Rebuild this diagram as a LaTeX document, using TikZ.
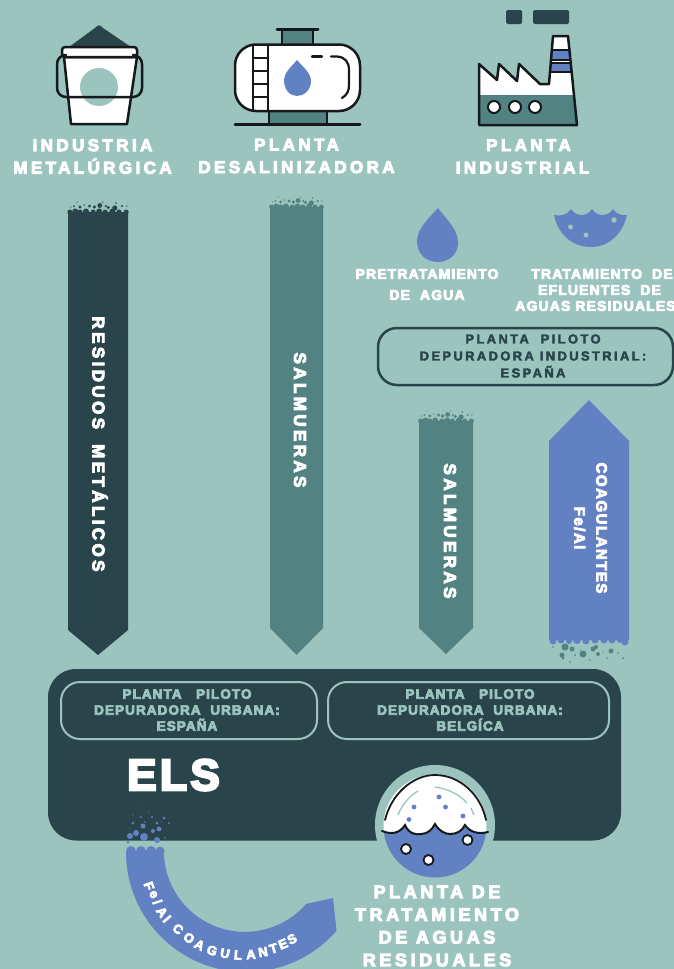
\documentclass[tikz,border=0pt]{standalone}
\usepackage{fontspec}
\setmainfont{Liberation Sans}
\newfontfamily\fA{Liberation Sans Bold}[LetterSpace=20,FakeBold=5.5]
\newfontfamily\fB{Liberation Sans Bold}[LetterSpace=8,FakeBold=5.5]
\newfontfamily\fC{Liberation Sans Bold}[LetterSpace=18,FakeBold=3]
\newfontfamily\fD{Liberation Sans Bold}[LetterSpace=10,FakeBold=5.5]
\newfontfamily\fE{Liberation Sans Bold}[FakeBold=5.5]
\definecolor{bgc}{HTML}{9BC4BE}
\definecolor{dark}{HTML}{2A444C}
\definecolor{teal}{HTML}{538282}
\definecolor{bluec}{HTML}{6281C3}
\definecolor{ink}{HTML}{15191C}
\tikzset{
  title/.style={font=\fA\fontsize{17}{22.5}\selectfont,text=white,align=center,inner sep=0pt},
  vlabel/.style={font=\fA\fontsize{17}{22}\selectfont,text=white,align=center,inner sep=0pt,rotate=-90},
  sublabel/.style={font=\fB\fontsize{14}{16}\selectfont,text=white,align=center,inner sep=0pt},
  pilot/.style={font=\fB\fontsize{13.5}{16}\selectfont,text=bgc,align=center,inner sep=0pt},
  pilotbox/.style={draw=bgc,line width=2pt,rounded corners=19pt},
  inkline/.style={draw=ink,line width=2.5pt,line join=round,line cap=round},
}
\newcommand{\foamtop}[4]{%
  \foreach \a/\b/\r in {.03/9/2.5,.12/8.5/3,.2/9/2.5,.3/8.5/3,.42/9/2.5,.52/8.5/3,.62/9/2.5,.74/8.5/3,.85/9/2.5,.97/9/2.5,
    .1/3/1,.2/4/1.6,.27/2/.8,.36/3/1.6,.44/4/1.8,.53/2.5/2.4,.63/3/1.2,.67/4.5/1.6,.78/5/2.6,.8/0/.9,.9/3/1.1,.05/4/.7,.98/3/.7,.58/-1/.7,.15/-1/.6}
    {\fill[#4] (#1+\a*#3,#2+\b) circle (\r);}}
\begin{document}
\begin{tikzpicture}[x=1pt,y=1pt,yscale=-1]
\useasboundingbox (0,0) rectangle (674,969);
\clip (0,0) rectangle (674,969);
\fill[bgc] (0,0) rectangle (674,969);

% ---------- bucket
\fill[dark] (95,28) .. controls (98,24.5) and (100,24.5) .. (103,28) -- (131,47) -- (69,47) -- cycle;
\filldraw[fill=white,inkline] (64,57) -- (71,124) -- (127,124) -- (137,57) -- cycle;
\fill[bgc] (99,87) circle (19);
\filldraw[fill=white,inkline,rounded corners=3pt] (62,47) rectangle (137,57);
\draw[inkline,rounded corners=9pt] (63,55) -- (57,55) -- (57,97) -- (142,97) -- (142,55) -- (136,55);
% ---------- tank
\fill[teal] (282,31) rectangle (313,46);
\draw[inkline] (282,31) -- (282,44) (313,31) -- (313,44);
\draw[ink,line width=3pt,line cap=round] (277,29.5) -- (318,29.5);
\fill[teal] (269,110) rectangle (327,124);
\draw[inkline] (269,111) -- (269,124) (327,111) -- (327,124);
\draw[ink,line width=3pt,line cap=round] (235,124.5) -- (360,124.5);
\filldraw[fill=white,inkline,rounded corners=21pt] (235,44.5) rectangle (360,111);
\draw[inkline] (253,45) -- (253,110) (268,45) -- (268,110)
  (253,58) -- (268,58) (253,71) -- (268,71) (253,84) -- (268,84) (253,97) -- (268,97);
\fill[bluec] (297,60) .. controls (303,67) and (311,73) .. (311,81) .. controls (311,90) and (304,96) .. (297,96) .. controls (290,96) and (284,90) .. (284,80) .. controls (284,73) and (291,67) .. (297,60) -- cycle;
\draw[ink,line width=2.2pt,line cap=round] (312,56.5) -- (322,56.5);
\draw[ink,line width=2.2pt,line cap=round] (331,56.5) -- (337,56.5) .. controls (345,57) and (349,62) .. (349,70) -- (349,85) .. controls (349,91) and (347,95) .. (342,98);
% ---------- factory
\fill[dark,rounded corners=1.5pt] (506,10) rectangle (522,24);
\fill[dark,rounded corners=1.5pt] (533,10) rectangle (569,24);
\begin{scope}
\clip (479,64) -- (497,80) -- (499,64) -- (517,81) -- (519,64) -- (540,84) -- (549,84) -- (553,36) -- (568,36) -- (577,125) -- (479,125) -- cycle;
\fill[white] (470,30) rectangle (585,95);
\fill[teal] (470,95) rectangle (585,126);
\fill[bluec] (545,51) rectangle (580,58.5);
\fill[bluec] (545,64) rectangle (580,71.5);
\draw[ink,line width=2pt] (545,50) -- (580,50) (545,59.5) -- (580,59.5) (545,62.5) -- (580,62.5) (545,72) -- (580,72);
\end{scope}
\draw[inkline] (479,64) -- (497,80) -- (499,64) -- (517,81) -- (519,64) -- (540,84) -- (549,84) -- (553,36) -- (568,36) -- (577,125) -- (479,125) -- cycle;
\filldraw[fill=white,draw=ink,line width=2pt] (494,107) circle (6);
\filldraw[fill=white,draw=ink,line width=2pt] (515,107) circle (6);
\filldraw[fill=white,draw=ink,line width=2pt] (535,107) circle (6);

% ---------- titles
\node[title] (t1) at (92.5,156.5) {\hspace*{3pt}INDUSTRIA\hspace*{3pt}\\METALÚRGICA};
\node[title] (t2) at (296.5,156) {PLANTA\\DESALINIZADORA};
\node[title] (t3) at (522.5,156.5) {\hspace*{12pt}PLANTA\\INDUSTRIAL};

% ---------- arrows
\foamtop{68}{203}{60}{dark}
\foamtop{270}{198}{53}{teal}
\foamtop{419}{412}{54}{teal}
\fill[dark] (68,212) -- (128,212) -- (128,630) -- (98,655) -- (68,630) -- cycle;
\fill[teal] (270,207) -- (323,207) -- (323,628) -- (296.5,655) -- (270,628) -- cycle;
\fill[teal] (419,421) -- (473,421) -- (473,628) -- (446,654) -- (419,628) -- cycle;
\fill[bluec] (549,640) -- (549,441) -- (589,400) -- (629,441) -- (629,640) -- cycle;
\foreach \x/\y/\r in {553/641/3.5,561/640/3.5,569/641/3,577/640/4,586/641/3.5,595/640/3.5,604/640/3.5,612/640/3.5,620/640/3,625/642/3.5}
  {\fill[bluec] (\x,\y) circle (\r);}
\foreach \x/\y/\r in {565/647/3.5,572/649/2.5,583/654/3.5,593/649/2.5,598/654/2,611/651/2.5,562/655/2.5,563/658/1.5,575/655/1,553/647/.8,590/660/.8,570/662/.8,623/658/1,618/653/.8,607/658/.8,596/647/2,580/650/.7,603/652/.7}
  {\fill[teal] (\x,\y) circle (\r);}

\node[vlabel] (v1) at (100,444) {RESIDUOS\hspace{7pt} METÁLICOS};
\node[vlabel] (v2) at (300,420) {SALMUERAS};
\node[vlabel] (v3) at (450,531) {SALMUERAS};
\node[vlabel,font=\fD\fontsize{15}{22}\selectfont] (v4) at (590.5,528) {COAGULANTES\\Fe/Al};

% ---------- treatment icons
\fill[bluec] (438,208) .. controls (445,218) and (458,228) .. (458,243) .. controls (458,254) and (449,262) .. (438,262) .. controls (426,262) and (417,254) .. (417,241) .. controls (417,228) and (431,216) .. (438,208) -- cycle;
\fill[bluec] (554,215) .. controls (561,217) and (568,214) .. (571,209) .. controls (576,217) and (587,217) .. (592,209) .. controls (597,217) and (608,217) .. (613,209) .. controls (616,214) and (622,216) .. (627,215) .. controls (622,236) and (607,247) .. (591,247) .. controls (573,247) and (558,235) .. (554,215) -- cycle;
\fill[bgc] (570.5,227) circle (2.5) (586,235) circle (2.5) (614,220) circle (2.7);
\node[sublabel] (s1) at (427,274) {PRETRATAMIENTO};
\node[sublabel] (s2) at (427,295) {DE\ \ AGUA};
\node[sublabel] (s3) at (595.5,290) {\hspace*{13pt}TRATAMIENTO\ \ DE\\\hspace*{8pt}EFLUENTES\ \ DE\\AGUAS\ RESIDUALES};

% ---------- industrial pilot box
\node[draw=dark,line width=2.5pt,rounded corners=19pt,minimum width=295pt,minimum height=57pt,inner sep=0pt] (pi) at (525.5,356.5) {};
\node[font=\fC\fontsize{13}{17}\selectfont,text=dark,align=center,inner sep=0pt] (pit) at (533,356) {PLANTA\ \ PILOTO\\DEPURADORA INDUSTRIAL:\\ESPAÑA};

% ---------- main panel
\fill[dark,rounded corners=28pt] (48,669) rectangle (621,840.5);
\node[pilotbox,minimum width=256pt,minimum height=57pt] (p1) at (189,710.5) {};
\node[pilotbox,minimum width=281pt,minimum height=57pt] (p2) at (468.5,710.5) {};
\node[pilot] (p1t) at (187,710) {PLANTA\ \ \ PILOTO\\DEPURADORA\ \ URBANA:\\ESPAÑA};
\node[pilot] (p2t) at (470,710) {PLANTA\ \ \ PILOTO\\DEPURADORA\ \ URBANA:\\BELGÍCA};
\node[font=\fB\fontsize{44}{44}\selectfont,text=white,inner sep=0pt] (els) at (173.5,775) {ELS};

% ---------- plant circle
\fill[bgc] (435,825) circle (60);
\begin{scope}
\clip (435,826) circle (51.5);
\fill[white] (380,770) rectangle (490,835);
\fill[bluec] (378,831) .. controls (392,835) and (400,833) .. (405,825) .. controls (409,834) and (416,835) .. (421,834) .. controls (427,834) and (432,830) .. (435,824) .. controls (439,831) and (445,834) .. (450,834) .. controls (457,834) and (462,831) .. (465,825) .. controls (469,831) and (477,835) .. (492,832) -- (492,880) -- (378,880) -- cycle;
\end{scope}
\draw[ink,line width=1.8pt,line cap=round] (385,820) .. controls (391,795) and (412,775) .. (435,775) .. controls (460,775) and (481,795) .. (486,820);
\draw[ink,line width=2pt,line cap=round] (382,831) .. controls (392,835) and (400,833) .. (405,825) .. controls (409,834) and (416,835) .. (421,834) .. controls (427,834) and (432,830) .. (435,824) .. controls (439,831) and (445,834) .. (450,834) .. controls (457,834) and (462,831) .. (465,825) .. controls (469,831) and (477,835) .. (488,832);
\draw[bgc,line width=1.3pt] (418,791) .. controls (409,796) and (402,805) .. (398,815);
\draw[bgc,line width=1.3pt] (435,787) .. controls (449,789) and (460,795) .. (467,803);
\draw[bgc,line width=1.3pt] (471,808) -- (474,815);
\fill[bluec] (414,807) circle (2.4) (439,797) circle (2.4) (445.5,807) circle (2.4) (463,816) circle (2.4) (409,819.5) circle (2.4);
\filldraw[fill=white,draw=ink,line width=1.8pt] (406,849) circle (5);
\filldraw[fill=white,draw=ink,line width=1.8pt] (428.5,860) circle (5);
\filldraw[fill=white,draw=ink,line width=1.8pt] (467.5,840) circle (5);
\node[title,font=\fA\fontsize{18}{22.7}\selectfont] (pw) at (437,926) {PLANTA DE\\TRATAMIENTO\\DE AGUAS\\RESIDUALES};

% ---------- curved arrow
\fill[bluec] (126,852) arc (180:41:120) -- (333,898) -- (306,904) arc (41:180:81 and 81) -- cycle;
\foreach \x/\y/\r in {131/851/5,141/851/5,151/851/5,160/851/4.5}
  {\fill[bluec] (\x,\y) circle (\r);}
\foreach \x/\y/\r in {144/837/4,136/833/3,130/836/3,143/826/2.5,157/840/3,159/829/2.5,153/831/2,157/823/1.5,133/823/1.3,164/818/1.5,152/817/1.2,141/817/1,169/823/1,138/808/.7,149/812/.7,133/815/.7,128/842/1.5,165/838/.8,130/828/.7,145/822/.8,161/822/.6}
  {\fill[bluec] (\x,\y) circle (\r);}
\foreach \c/\x/\y [count=\i] in {F/149/886,e/153.5/894.5,{/}/157.5/902,A/162/912,l/167/919,C/178/929,O/189/938,A/199.5/945,G/212/950.5,U/225/953.5,L/238/955,A/251/954.5,N/263/952,T/273.5/948.5,E/283/944,S/292/939}
  {\pgfmathsetmacro\rr{-atan2(246-\x,\y-852)}
   \node[font=\fE\fontsize{13}{13}\selectfont,text=white,inner sep=0pt,rotate=\rr] (c\i) at (\x,\y) {\c};}
\end{tikzpicture}
\end{document}
